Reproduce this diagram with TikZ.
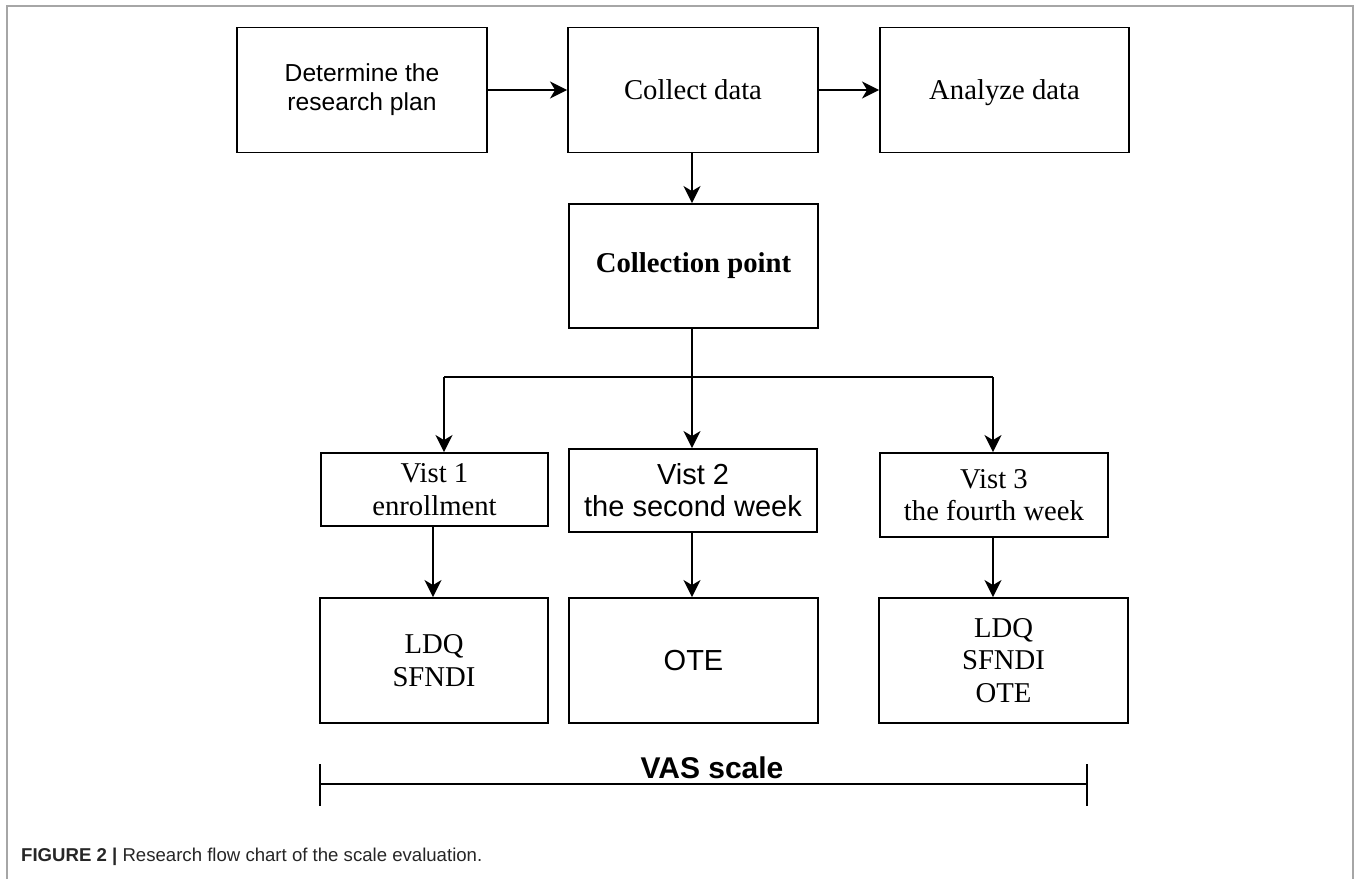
\documentclass[tikz,border=0pt]{standalone}
\usepackage{fontspec}
\setmainfont{Liberation Serif}
\newfontfamily\arialfont{Liberation Sans}
\usepackage{tikz}
\usetikzlibrary{arrows.meta}
\usetikzlibrary{calc}
\tikzset{>={Stealth[length=17pt,width=17pt,inset=5pt]}}
\tikzset{box/.style={draw,line width=1.9pt,inner sep=0pt,align=center}}
\tikzset{link/.style={line width=1.9pt}}
\tikzset{serif/.style={font=\fontsize{28.7}{32.5}\selectfont}}
\tikzset{sans/.style={font=\arialfont\fontsize{29}{32}\selectfont}}

\begin{document}
\begin{tikzpicture}[x=1pt,y=-1pt]
\useasboundingbox (0,0) rectangle (1357,879);
    %frame
    \draw[gray!70,line width=2pt] (7,879) -- (7,6) -- (1353,6) -- (1353,879);
    %top row
    \node[box,font=\arialfont\fontsize{24.6}{29}\selectfont,minimum width=250pt,minimum height=125pt] (plan) at (362,90)
        {Determine the\\research plan};
    \node[box,serif,text depth=0pt,minimum width=250pt,minimum height=125pt] (collect) at (693,90)
        {Collect data};
    \node[box,serif,text depth=0pt,minimum width=249pt,minimum height=125pt] (analyze) at (1004.5,90)
        {Analyze data};
    \node[box,serif,minimum width=249pt,minimum height=124pt] (cpoint) at (693.5,266)
        {\bfseries Collection point};
    %visits
    \node[box,serif,minimum width=227pt,minimum height=73pt] (vistA) at (434.5,489.5)
        {Vist 1\\enrollment};
    \node[box,sans,minimum width=248pt,minimum height=83pt] (vistB) at (693,490.5)
        {Vist 2\\the second week};
    \node[box,serif,minimum width=228pt,minimum height=84pt] (vistC) at (994,495)
        {Vist 3\\the fourth week};
    %scales
    \node[box,serif,minimum width=228pt,minimum height=125pt] (resA) at (434,660.5)
        {LDQ\\SFNDI};
    \node[box,sans,minimum width=249pt,minimum height=125pt] (resB) at (693.5,660.5)
        {OTE};
    \node[box,serif,minimum width=249pt,minimum height=125pt] (resC) at (1003.5,660.5)
        {LDQ\\SFNDI\\OTE};
    %arrows
    \draw[link,->] (plan) -- (collect);
    \draw[link,->] (collect) -- (analyze);
    \draw[link,->] (collect.south -| 692,0) -- (cpoint.north -| 692,0);
    \coordinate (fork) at (692,377);
    \coordinate (forkL) at (444,377);
    \coordinate (forkR) at (993,377);
    \draw[link] (cpoint.south -| fork) -- (fork);
    \draw[link] (forkL) -- (forkR);
    \draw[link,->] (forkL) -- (forkL |- vistA.north);
    \draw[link,->] (fork) -- (fork |- vistB.north);
    \draw[link,->] (forkR) -- (forkR |- vistC.north);
    \draw[link,->] (vistA.south -| 433,0) -- (resA.north -| 433,0);
    \draw[link,->] (vistB.south -| fork) -- (resB.north -| fork);
    \draw[link,->] (vistC.south -| forkR) -- (resC.north -| forkR);
    %VAS scale
    \coordinate (vasL) at (320,784);
    \coordinate (vasR) at (1087,784);
    \draw[link] (vasL) -- (vasR);
    \draw[link] ($(vasL)+(0,-20)$) -- ($(vasL)+(0,22)$);
    \draw[link] ($(vasR)+(0,-20)$) -- ($(vasR)+(0,22)$);
    \node[font=\arialfont\bfseries\fontsize{30}{36}\selectfont] (vas) at (712,768) {VAS scale};
    %caption
    \node[anchor=base west,inner sep=0pt,text=black!85,font=\arialfont\fontsize{18.6}{21}\selectfont] (caption) at (21,861)
        {\textbf{FIGURE 2 |} Research flow chart of the scale evaluation.};
\end{tikzpicture}
\end{document}
